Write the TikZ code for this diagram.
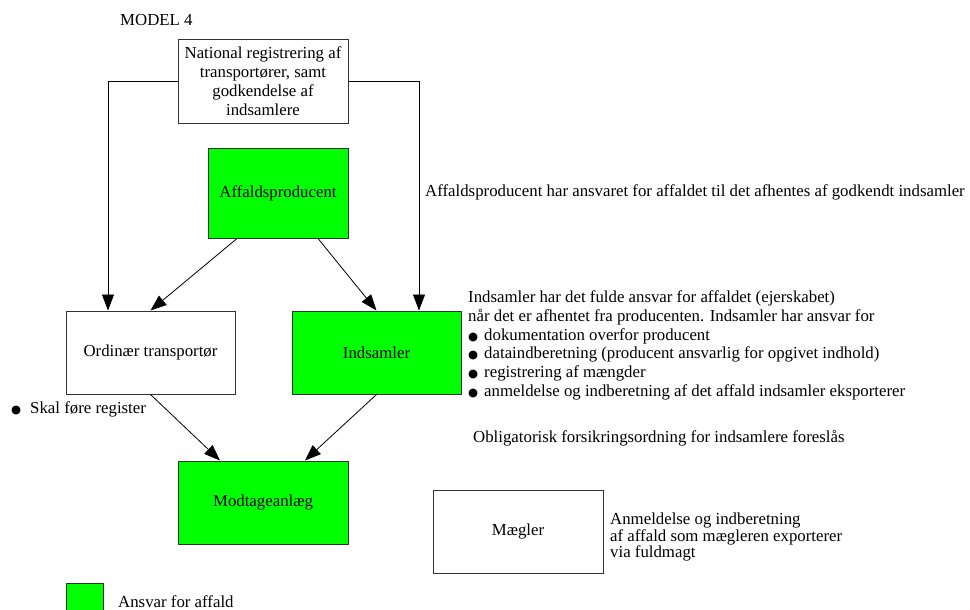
\documentclass[tikz,border=0pt]{standalone}
\usepackage{fontspec}
\setmainfont{Liberation Serif}
\newfontfamily\symf{DejaVu Sans}
\usetikzlibrary{arrows.meta}
\definecolor{grn}{HTML}{00FF00}
\definecolor{edge}{HTML}{333333}
\newcommand{\fs}{\fontsize{16.8}{19}\selectfont}
\newcommand{\bdot}{{\symf\fontsize{11.5}{11.5}\selectfont ●}}
\begin{document}
\begin{tikzpicture}[x=1pt,y=-1pt,
  box/.style={draw=edge, line width=1pt, minimum width=170pt, minimum height=83pt, inner sep=0pt, align=center, font=\fs},
  gbox/.style={box, fill=grn},
  txt/.style={inner sep=0pt, font=\fs, align=left},
  arr/.style={-{Triangle[length=16pt,width=12pt]}, line width=0.8pt}]
\useasboundingbox (0,0) rectangle (970,610);
\node[txt, anchor=west] (model) at (120,20) {MODEL 4};
\node[box] (top) at (263,81.5) {National registrering af\\transportører, samt\\godkendelse af\\indsamlere};
\node[gbox, minimum width=140pt, minimum height=90pt] (aff) at (278,193) {Affaldsproducent};
\node[box, minimum width=169pt] (ord) at (150.5,352.5) {Ordinær transportør};
\node[gbox, minimum width=169pt] (ind) at (376.5,352.5) {Indsamler};
\node[gbox] (mod) at (263,502.5) {Modtageanlæg};
\node[box] (mae) at (518,531.5) {Mægler};
\node[gbox, minimum width=37pt, minimum height=28pt] (leg) at (84.5,597) {};
\node[txt, anchor=west] (legt) at (118,602) {Ansvar for affald};
\node[txt, anchor=west] (t1) at (425,192) {Affaldsproducent har ansvaret for affaldet til det afhentes af godkendt indsamler};
\node[txt, anchor=north west, font=\fontsize{16.8}{18.8}\selectfont] (t2) at (468,290.5) {Indsamler har det fulde ansvar for affaldet (ejerskabet)\\
når det er afhentet fra producenten. Indsamler har ansvar for\\
\bdot\hspace{6pt}dokumentation overfor producent\\
\bdot\hspace{6pt}dataindberetning (producent ansvarlig for opgivet indhold)\\
\bdot\hspace{6pt}registrering af mængder\\
\bdot\hspace{6pt}anmeldelse og indberetning af det affald indsamler eksporterer};
\node[txt, anchor=west] (t3) at (11,409) {\bdot\hspace{9pt}Skal føre register};
\node[txt, anchor=west] (t4) at (473,438) {Obligatorisk forsikringsordning for indsamlere foreslås};
\node[txt, anchor=west, font=\fontsize{16.8}{16.5}\selectfont] (t5) at (610,537) {Anmeldelse og indberetning\\af affald som mægleren exporterer\\via fuldmagt};
\draw[arr] (top.west) -| ([xshift=-42.5pt]ord.north);
\draw[arr] (top.east) -| ([xshift=42.5pt]ind.north);
\draw[arr] ([xshift=-41pt]aff.south) -- (ord.north);
\draw[arr] ([xshift=40pt]aff.south) -- (ind.north);
\draw[arr] (ord.south) -- ([xshift=-43pt]mod.north);
\draw[arr] (ind.south) -- ([xshift=42pt]mod.north);
\end{tikzpicture}
\end{document}
